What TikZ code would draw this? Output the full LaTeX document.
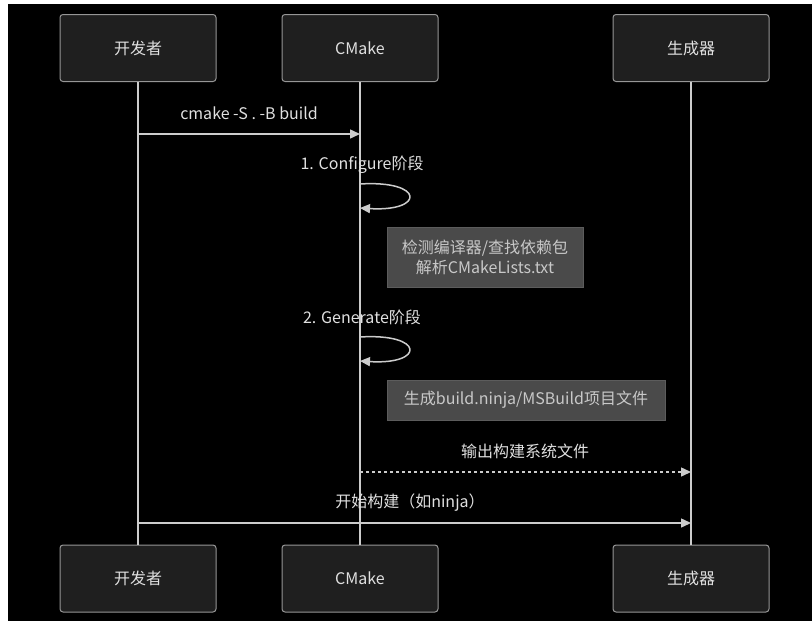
\documentclass[tikz,border=0pt]{standalone}
\usepackage{fontspec}
\setmainfont{Noto Sans CJK SC}
\usepackage{tikz}
\usetikzlibrary{arrows.meta, positioning}
\usepackage{xcolor}
\definecolor{actorfill}{RGB}{31,31,31}
\definecolor{actorline}{RGB}{150,150,150}
\definecolor{linegray}{RGB}{204,204,204}
\definecolor{txtgray}{RGB}{224,224,224}
\definecolor{notefill}{RGB}{74,74,74}
\definecolor{noteline}{RGB}{92,92,92}
\definecolor{notetext}{RGB}{200,200,200}

\begin{document}
\begin{tikzpicture}[x=1pt, y=-1pt,
  actor/.style={draw=actorline, fill=actorfill, rounded corners=3pt, line width=1pt,
    minimum width=156pt, minimum height=67pt, text=txtgray, font=\fontsize{16}{19}\selectfont},
  life/.style={linegray, line width=1.5pt},
  msg/.style={linegray, line width=1.5pt, -{Triangle[length=10pt, width=9pt]}},
  lbl/.style={text=txtgray, font=\fontsize{16}{19}\selectfont},
  notebox/.style={draw=noteline, fill=notefill, line width=1pt, text=notetext, align=center,
    font=\fontsize{16}{20}\selectfont, inner sep=0pt}]
  \useasboundingbox (0,0) rectangle (812,621);
  \fill[white] (0,0) rectangle (812,621);
  \fill[black] (8,4) rectangle (812,621);
  % Actors
  \node[actor] (devT) at (138,48) {开发者};
  \node[actor] (cmkT) at (360,48) {CMake};
  \node[actor] (genT) at (691,48) {生成器};
  \node[actor] (devB) at (138,578.5) {开发者};
  \node[actor] (cmkB) at (360,578.5) {CMake};
  \node[actor] (genB) at (691,578.5) {生成器};
  % Lifelines
  \draw[life] (devT) -- (devB);
  \draw[life] (cmkT) -- (cmkB);
  \draw[life] (genT) -- (genB);
  % cmake call
  \coordinate (m1a) at (138,134);
  \coordinate (m1b) at (360,134);
  \draw[msg] (m1a) -- (m1b);
  \node[lbl] (l1) at (249,113) {cmake -S . -B build};
  % Configure
  \node[lbl] (l2) at (362,165) {1. Configure阶段};
  \coordinate (c1a) at (360,184);
  \coordinate (c1b) at (360,208);
  \draw[msg] (c1a) .. controls (425,180) and (425,212) .. (c1b);
  \node[notebox, minimum width=196pt, minimum height=60pt] (n1) at (485,257)
    {检测编译器/查找依赖包\\解析CMakeLists.txt};
  % Generate
  \node[lbl] (l3) at (362,317) {2. Generate阶段};
  \coordinate (c2a) at (360,337);
  \coordinate (c2b) at (360,361);
  \draw[msg] (c2a) .. controls (425,333) and (425,365) .. (c2b);
  \node[notebox, minimum width=278pt, minimum height=40pt] (n2) at (526,400)
    {生成build.ninja/MSBuild项目文件};
  % Output
  \coordinate (m2a) at (360,472);
  \coordinate (m2b) at (691,472);
  \draw[msg, dash pattern=on 3pt off 3pt] (m2a) -- (m2b);
  \node[lbl] (l4) at (525,451) {输出构建系统文件};
  % Build
  \coordinate (m3a) at (138,523);
  \coordinate (m3b) at (691,523);
  \draw[msg] (m3a) -- (m3b);
  \node[lbl] (l5) at (410,503) {开始构建（如ninja）};
\end{tikzpicture}
\end{document}
